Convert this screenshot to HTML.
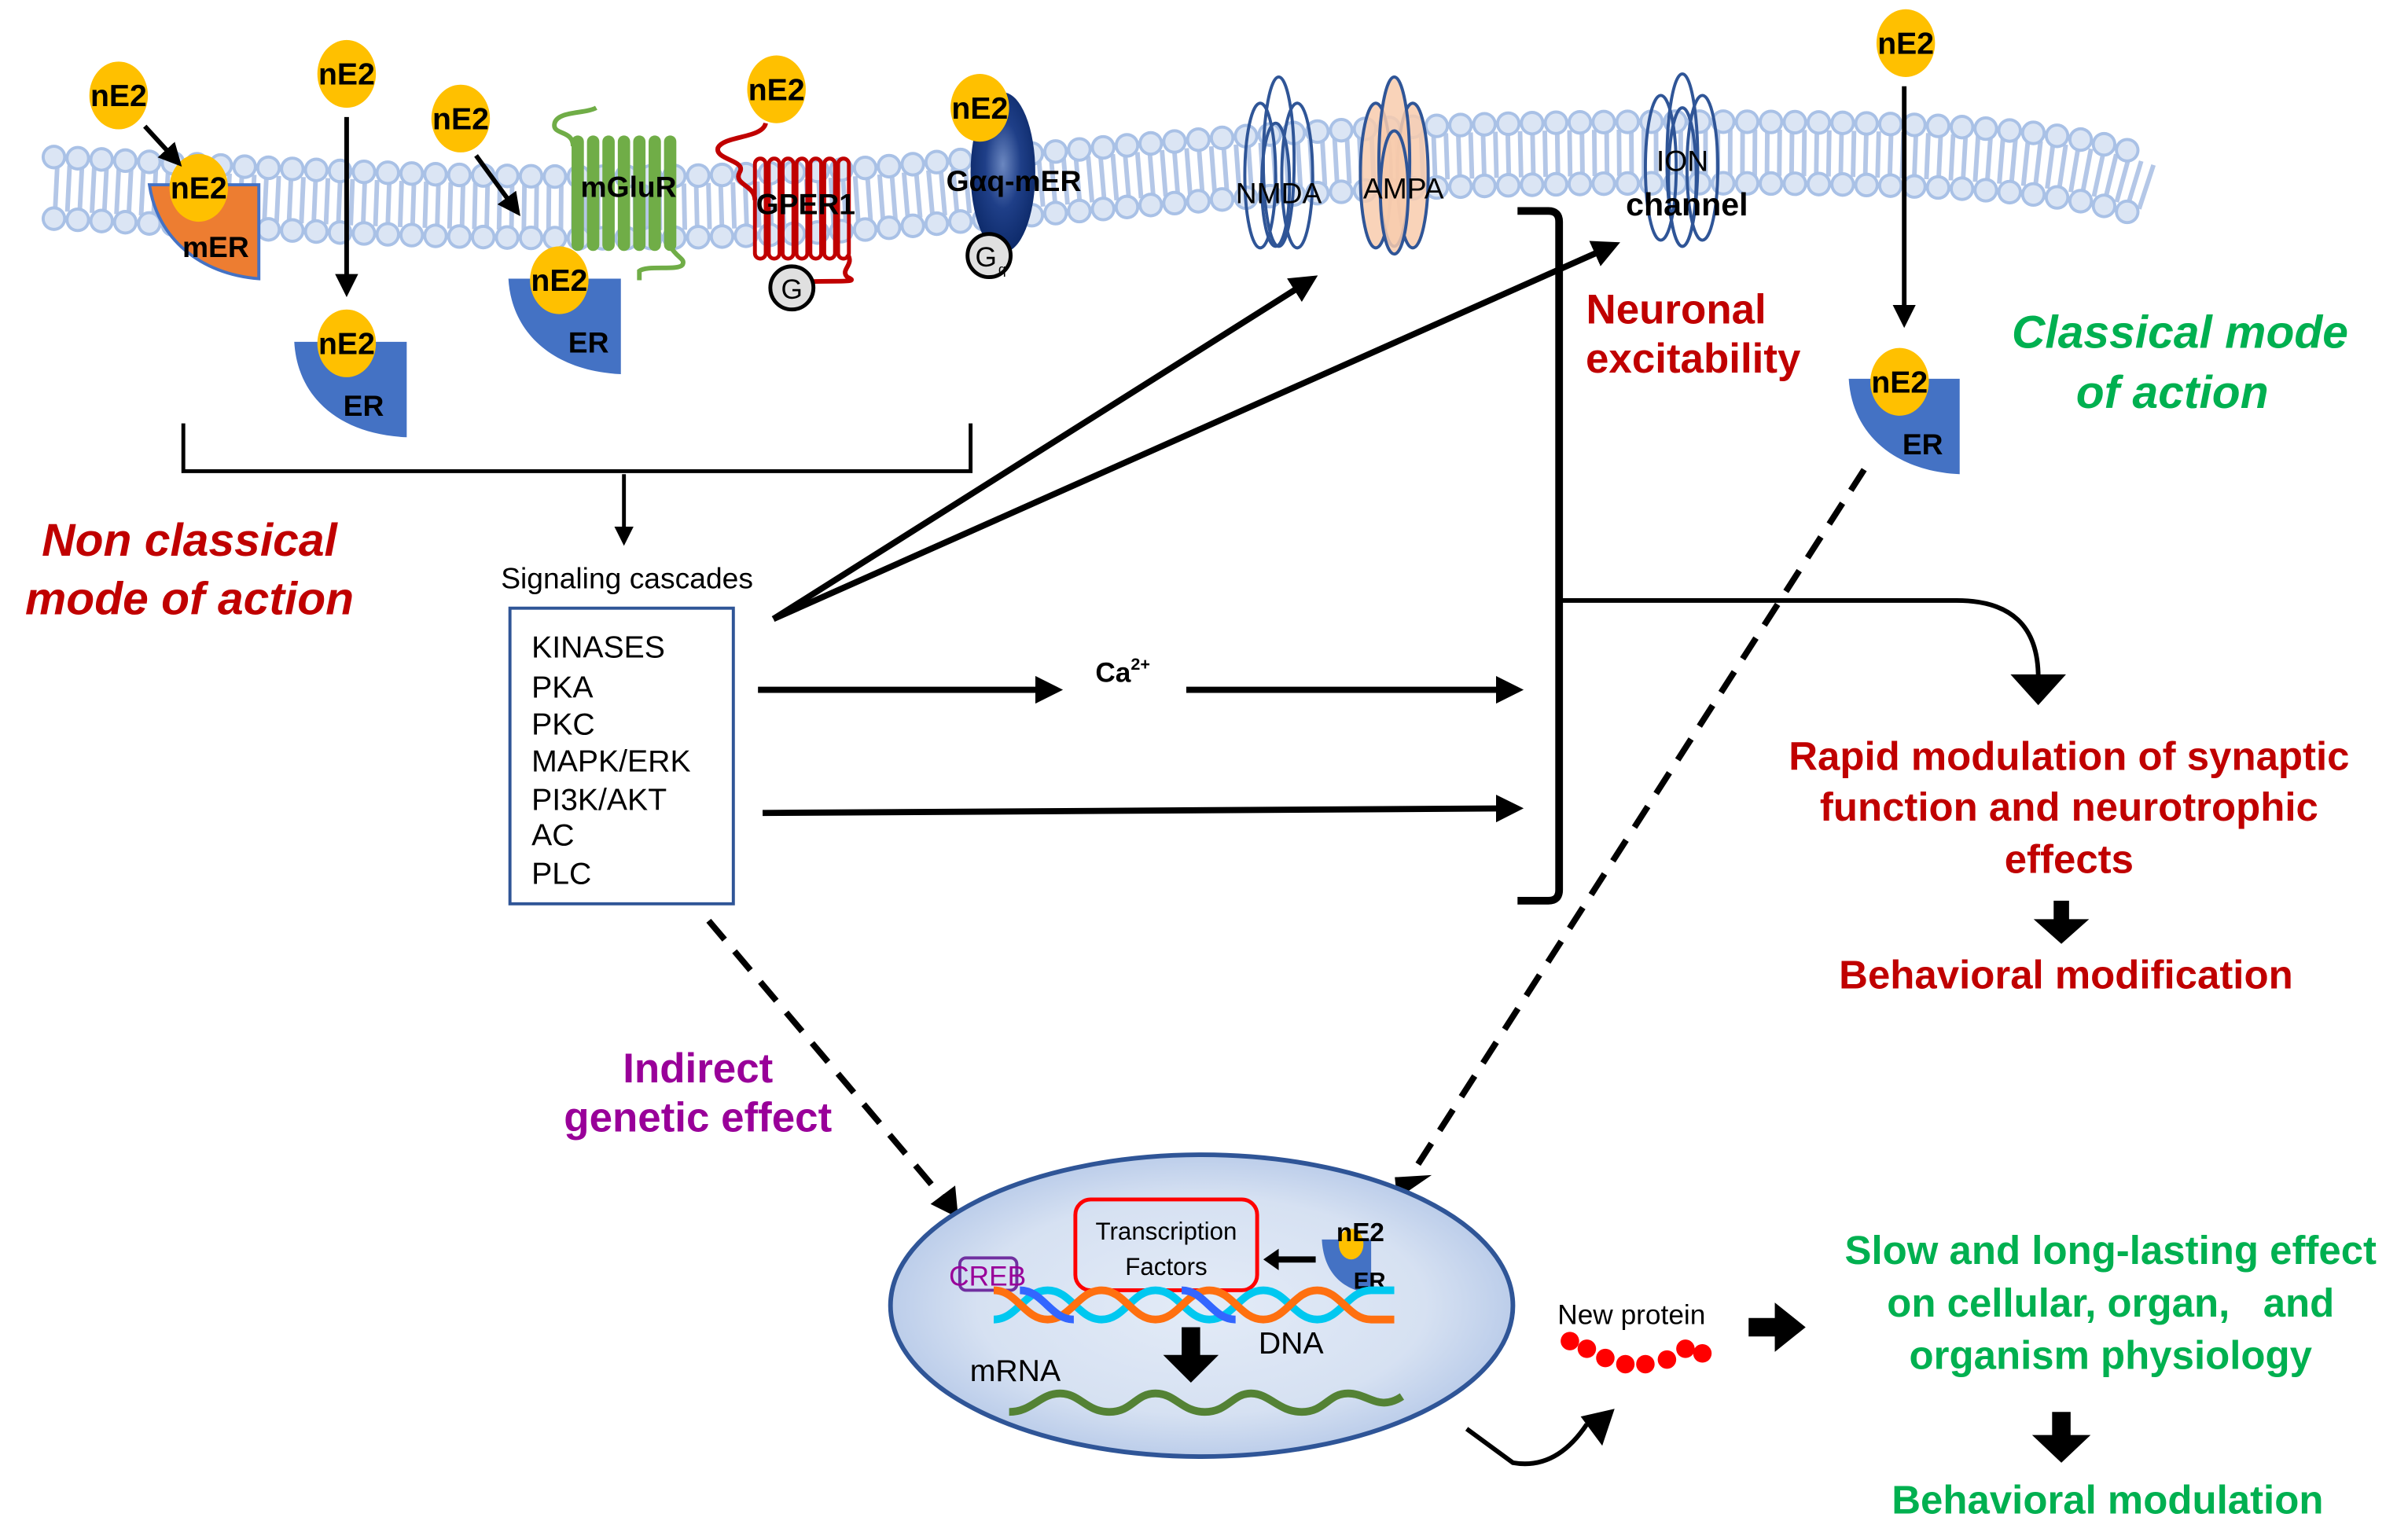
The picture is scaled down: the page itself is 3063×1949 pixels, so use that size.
<!DOCTYPE html>
<html><head><meta charset="utf-8"><style>
html,body{margin:0;padding:0;background:#fff;}
svg{display:block;}
text{font-family:"Liberation Sans",Arial,sans-serif;}
</style></head><body>
<svg width="3063" height="1949" viewBox="0 0 1563 995" preserveAspectRatio="none" xmlns="http://www.w3.org/2000/svg">
<defs>
<marker id="ah" markerWidth="4.5" markerHeight="4.5" refX="3.5" refY="2.25" orient="auto" markerUnits="strokeWidth"><path d="M0,0 L4.5,2.25 L0,4.5 z" fill="#000"/></marker>
<marker id="ah2" markerWidth="5" markerHeight="5" refX="4" refY="2.5" orient="auto" markerUnits="strokeWidth"><path d="M0,0 L5,2.5 L0,5 z" fill="#000"/></marker>
<radialGradient id="nuc" cx="0.5" cy="0.5" r="0.6"><stop offset="0" stop-color="#e3ebf7"/><stop offset="0.6" stop-color="#d6e1f2"/><stop offset="1" stop-color="#a9bfe4"/></radialGradient>
<radialGradient id="gq" cx="0.5" cy="0.45" r="0.55"><stop offset="0" stop-color="#6b87c0"/><stop offset="0.5" stop-color="#1f3f88"/><stop offset="1" stop-color="#0d2a6a"/></radialGradient>
<path id="mem" d="M35,122 C200,130 400,144 600,126 S900,99 1100,99 S1350,107 1395,122"/>
</defs>

<!-- membrane -->
<g fill="none">
<use href="#mem" stroke="#b4c7e7" stroke-width="30" stroke-dasharray="3 5"/>
<g transform="translate(0,-20)"><use href="#mem" stroke="#a9c1e6" stroke-width="16" stroke-linecap="round" stroke-dasharray="0 15.5"/><use href="#mem" stroke="#dbe5f4" stroke-width="12" stroke-linecap="round" stroke-dasharray="0 15.5"/></g>
<g transform="translate(0,20)"><use href="#mem" stroke="#a9c1e6" stroke-width="16" stroke-linecap="round" stroke-dasharray="0 15.5"/><use href="#mem" stroke="#dbe5f4" stroke-width="12" stroke-linecap="round" stroke-dasharray="0 15.5"/></g>
</g>

<!-- mER orange -->
<path d="M97,120 L113,120 A16,18 0 0 0 145,120 L168,120 L168,181 C130,178 102,155 97,120 z" fill="#ED7D31" stroke="#4472C4" stroke-width="2"/>
<!-- ER shapes -->
<path d="M191,222 L207,222 A18,22 0 0 0 243,222 L264,222 L264,284 C220,282 193,258 191,222 z" fill="#4472C4"/>
<path d="M330,181 L346,181 A18,22 0 0 0 382,181 L403,181 L403,243 C360,241 332,217 330,181 z" fill="#4472C4"/>
<path d="M1200,246 L1215,246 A18,22 0 0 0 1251,246 L1272,246 L1272,308 C1230,306 1202,282 1200,246 z" fill="#4472C4"/>

<!-- mGluR -->
<path d="M387,70 C380,74 362,72 360,80 C358,88 372,84 372,95" stroke="#70AD47" stroke-width="3" fill="none"/>
<g fill="#70AD47">
<rect x="371" y="88" width="8" height="75" rx="4"/><rect x="381" y="88" width="8" height="75" rx="4"/><rect x="391" y="88" width="8" height="75" rx="4"/><rect x="401" y="88" width="8" height="75" rx="4"/><rect x="411" y="88" width="8" height="75" rx="4"/><rect x="421" y="88" width="8" height="75" rx="4"/><rect x="431" y="88" width="8" height="75" rx="4"/>
</g>
<path d="M435,160 C440,168 445,168 443,172 C440,176 420,172 415,176 L415,182" stroke="#70AD47" stroke-width="3" fill="none"/>
<!-- GPER1 -->
<path d="M497,80 C495,90 470,88 466,96 C464,104 485,104 480,112 C476,120 490,120 490,130" stroke="#C00000" stroke-width="3" fill="none"/>
<g fill="none" stroke="#C00000" stroke-width="2.5">
<rect x="490" y="103" width="7" height="65" rx="3.5"/><rect x="499" y="103" width="7" height="65" rx="3.5"/><rect x="508" y="103" width="7" height="65" rx="3.5"/><rect x="517" y="103" width="7" height="65" rx="3.5"/><rect x="526" y="103" width="7" height="65" rx="3.5"/><rect x="535" y="103" width="7" height="65" rx="3.5"/><rect x="544" y="103" width="7" height="65" rx="3.5"/>
</g>
<path d="M550,165 C555,172 545,175 550,180 C560,184 540,182 525,183" stroke="#C00000" stroke-width="3" fill="none"/>
<circle cx="514" cy="187" r="14" fill="#e0e0e0" stroke="#000" stroke-width="2.5"/>
<text x="514" y="194" font-size="18" text-anchor="middle">G</text>
<!-- Gaq-mER -->
<ellipse cx="651" cy="112" rx="21" ry="52" fill="url(#gq)"/>
<circle cx="642" cy="166" r="14" fill="#e0e0e0" stroke="#000" stroke-width="2.5"/>
<text x="640" y="173" font-size="18" text-anchor="middle">G</text><text x="648" y="178" font-size="9">q</text>

<!-- NMDA -->
<g fill="none" stroke="#2F5597" stroke-width="2">
<ellipse cx="818" cy="114" rx="10" ry="47"/><ellipse cx="830" cy="105" rx="10" ry="55"/><ellipse cx="842" cy="114" rx="10" ry="47"/><ellipse cx="828" cy="120" rx="9" ry="40"/>
</g>
<!-- AMPA -->
<g fill="#F8CBAD" fill-opacity="0.85" stroke="#2F5597" stroke-width="2">
<ellipse cx="893" cy="114" rx="10" ry="47"/><ellipse cx="917" cy="114" rx="10" ry="47"/><ellipse cx="905" cy="105" rx="10" ry="55"/><ellipse cx="905" cy="125" rx="9" ry="40"/>
</g>
<!-- ION -->
<g fill="none" stroke="#2F5597" stroke-width="2">
<ellipse cx="1078" cy="109" rx="10" ry="47"/><ellipse cx="1105" cy="109" rx="10" ry="47"/><ellipse cx="1092" cy="104" rx="10" ry="56"/><ellipse cx="1092" cy="115" rx="9" ry="45"/>
</g>

<!-- nE2 circles -->
<g fill="#FFC000">
<ellipse cx="77" cy="62" rx="19" ry="22"/><ellipse cx="225" cy="48" rx="19" ry="22"/><ellipse cx="299" cy="77" rx="19" ry="22"/><ellipse cx="504" cy="58" rx="19" ry="22"/><ellipse cx="636" cy="70" rx="19" ry="22"/><ellipse cx="1237" cy="28" rx="19" ry="22"/>
<ellipse cx="129" cy="122" rx="19" ry="22"/><ellipse cx="225" cy="223" rx="19" ry="22"/><ellipse cx="363" cy="182" rx="19" ry="22"/><ellipse cx="1233" cy="248" rx="19" ry="22"/>
</g>
<g font-size="20" font-weight="bold" text-anchor="middle">
<text x="77" y="69">nE2</text><text x="225" y="55">nE2</text><text x="299" y="84">nE2</text><text x="504" y="65">nE2</text><text x="636" y="77">nE2</text><text x="1237" y="35">nE2</text>
<text x="129" y="129">nE2</text><text x="225" y="230">nE2</text><text x="363" y="189">nE2</text><text x="1233" y="255">nE2</text>
<text x="140" y="167" font-size="19">mER</text><text x="236" y="270" font-size="19">ER</text><text x="382" y="229" font-size="19">ER</text><text x="1248" y="295" font-size="19">ER</text>
<text x="408" y="128" font-size="19">mGluR</text><text x="523" y="139" font-size="19">GPER1</text><text x="658" y="124" font-size="19">Gαq-mER</text>
<text x="830" y="132" font-size="19" font-weight="normal">NMDA</text><text x="911" y="129" font-size="19" font-weight="normal">AMPA</text>
<text x="1092" y="111" font-size="19" font-weight="normal">ION</text><text x="1095" y="140" font-size="21">channel</text>
</g>

<!-- small arrows -->
<g stroke="#000" stroke-width="3" fill="none" marker-end="url(#ah2)">
<line x1="94" y1="82" x2="116" y2="106"/><line x1="225" y1="76" x2="225" y2="190"/><line x1="309" y1="101" x2="336" y2="138"/><line x1="1236" y1="56" x2="1236" y2="210"/>
</g>

<!-- bracket -->
<path d="M119,275 L119,306 L630,306 L630,275" stroke="#000" stroke-width="2.5" fill="none"/>
<line x1="405" y1="308" x2="405" y2="352" stroke="#000" stroke-width="2.5" marker-end="url(#ah2)"/>
<text x="407" y="382" font-size="19" text-anchor="middle">Signaling cascades</text>
<rect x="331" y="395" width="145" height="192" fill="#fff" stroke="#2F5597" stroke-width="2"/>
<g font-size="20"><text x="345" y="427">KINASES</text><text x="345" y="453">PKA</text><text x="345" y="477">PKC</text><text x="345" y="501">MAPK/ERK</text><text x="345" y="526">PI3K/AKT</text><text x="345" y="549">AC</text><text x="345" y="574">PLC</text></g>

<g font-size="30" font-weight="bold" font-style="italic" fill="#C00000" text-anchor="middle"><text x="123" y="361">Non classical</text><text x="123" y="399">mode of action</text></g>

<!-- arrows from box -->
<g stroke="#000" stroke-width="4" fill="none" marker-end="url(#ah)">
<line x1="502" y1="402" x2="852" y2="181"/><line x1="502" y1="402" x2="1048" y2="159"/>
<line x1="492" y1="448" x2="686" y2="448"/><line x1="770" y1="448" x2="985" y2="448"/><line x1="495" y1="528" x2="985" y2="525"/>
</g>
<text x="711" y="443" font-size="18" font-weight="bold">Ca<tspan font-size="11" dy="-8">2+</tspan></text>

<!-- big bracket -->
<path d="M985,137 L1005,137 Q1012,137 1012,144 L1012,578 Q1012,585 1005,585 L985,585" stroke="#000" stroke-width="5" fill="none"/>
<path d="M1012,390 L1270,390 Q1323,390 1323,440" stroke="#000" stroke-width="3" fill="none"/>
<path d="M1305,438 L1341,438 L1323,458 z" fill="#000"/>

<g font-size="27" font-weight="bold" fill="#C00000" text-anchor="middle"><text x="1088" y="210">Neuronal</text><text x="1099" y="242">excitability</text></g>
<g font-size="30" font-weight="bold" font-style="italic" fill="#00B050" text-anchor="middle"><text x="1415" y="226">Classical mode</text><text x="1410" y="265">of action</text></g>
<g font-size="26" font-weight="bold" fill="#C00000" text-anchor="middle"><text x="1343" y="500">Rapid modulation of synaptic</text><text x="1343" y="533">function and neurotrophic</text><text x="1343" y="567">effects</text><text x="1341" y="642">Behavioral modification</text></g>
<path d="M1333,585 L1343,585 L1343,597 L1356,597 L1338,613 L1320,597 L1333,597 z" fill="#000"/>

<!-- dashed -->
<g stroke="#000" stroke-width="4" fill="none" stroke-dasharray="16 10">
<line x1="460" y1="598" x2="612" y2="778"/><line x1="1210" y1="305" x2="916" y2="763"/>
</g>
<path d="M604,782 L622,791 L620,770 z" fill="#000"/><path d="M907,766 L908,776 L924,765 z" fill="#000" stroke="#000" stroke-width="3"/>
<g font-size="27" font-weight="bold" fill="#990099" text-anchor="middle"><text x="453" y="703">Indirect</text><text x="453" y="735">genetic effect</text></g>

<!-- nucleus -->
<ellipse cx="780" cy="848" rx="202" ry="98" fill="url(#nuc)" stroke="#2F5597" stroke-width="3"/>
<rect x="698" y="779" width="118" height="59" rx="10" fill="none" stroke="#FF0000" stroke-width="2.5"/>
<text x="757" y="805" font-size="16" text-anchor="middle">Transcription</text><text x="757" y="828" font-size="16" text-anchor="middle">Factors</text>
<rect x="623" y="817" width="37" height="21" rx="4" fill="none" stroke="#7030A0" stroke-width="2"/>
<text x="641" y="835" font-size="18" fill="#990099" text-anchor="middle">CREB</text>
<path d="M858,805 L890,805 L890,840 C870,838 859,825 858,805 z" fill="#4472C4"/>
<ellipse cx="877" cy="808" rx="8" ry="10" fill="#FFC000"/>
<text x="883" y="806" font-size="17" font-weight="bold" text-anchor="middle">nE2</text>
<text x="889" y="837" font-size="15" font-weight="bold" text-anchor="middle">ER</text>
<line x1="854" y1="818" x2="826" y2="818" stroke="#000" stroke-width="4"/><path d="M820,818 L830,811 L830,825 z" fill="#000"/>
<!-- DNA -->
<path d="M645,857 C660,857 665,838 680,838 S700,857 715,857 S735,838 750,838 S770,857 785,857 S805,838 820,838 S840,857 855,857 S875,838 890,838 L905,838" stroke="#00C8F0" stroke-width="5" fill="none"/>
<path d="M645,838 C660,838 665,857 680,857 S700,838 715,838 S735,857 750,857 S770,838 785,838 S805,857 820,857 S840,838 855,838 S875,857 890,857 L905,857" stroke="#FF7010" stroke-width="5" fill="none"/>
<path d="M662,838 C677,838 682,857 697,857" stroke="#3366FF" stroke-width="5" fill="none"/>
<path d="M767,838 C782,838 787,857 802,857" stroke="#3366FF" stroke-width="5" fill="none"/>
<path d="M767,862 L779,862 L779,880 L791,880 L773,898 L755,880 L767,880 z" fill="#000"/>
<text x="838" y="879" font-size="20" text-anchor="middle">DNA</text>
<text x="659" y="897" font-size="20" text-anchor="middle">mRNA</text>
<path d="M655,917 C670,917 675,905 688,905 S705,917 720,917 S737,905 750,905 S767,917 782,917 S800,905 812,905 S830,917 845,917 S862,905 875,905 S895,917 910,907" stroke="#548235" stroke-width="5" fill="none"/>

<!-- curved arrow -->
<path d="M952,928 L982,950 Q1010,955 1030,925" stroke="#000" stroke-width="3" fill="none"/>
<path d="M1026,920 L1048,915 L1040,939 z" fill="#000"/>
<text x="1059" y="860" font-size="18" text-anchor="middle">New protein</text>
<g fill="#FF0000"><circle cx="1019" cy="871" r="6"/><circle cx="1030" cy="876" r="6"/><circle cx="1042" cy="882" r="6"/><circle cx="1055" cy="886" r="6"/><circle cx="1068" cy="886" r="6"/><circle cx="1082" cy="883" r="6"/><circle cx="1094" cy="876" r="6"/><circle cx="1105" cy="879" r="6"/></g>
<path d="M1135,856 L1152,856 L1152,846 L1172,862 L1152,878 L1152,868 L1135,868 z" fill="#000"/>
<g font-size="26" font-weight="bold" fill="#00B050" text-anchor="middle"><text x="1370" y="821">Slow and long-lasting effect</text><text x="1370" y="855">on cellular, organ, &#160; and</text><text x="1370" y="889">organism physiology</text><text x="1368" y="983">Behavioral modulation</text></g>
<path d="M1332,917 L1344,917 L1344,932 L1357,932 L1338,950 L1319,932 L1332,932 z" fill="#000"/>
</svg>
</body></html>
